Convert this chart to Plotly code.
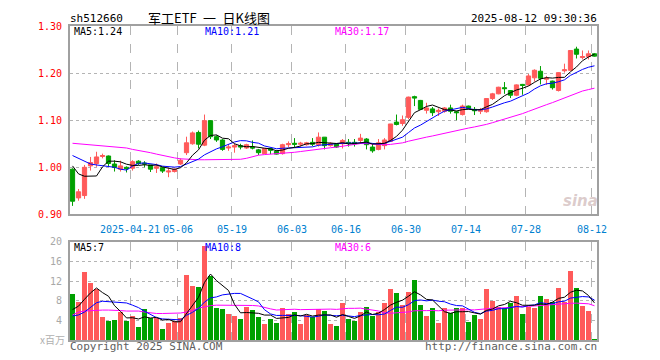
import pandas as pd
import plotly.graph_objects as go

# ---------------- data ----------------
holidays = ["2025-05-01", "2025-05-02", "2025-05-05", "2025-06-02"]
dates = [d for d in pd.bdate_range("2025-04-07", "2025-08-12").strftime("%Y-%m-%d") if d not in holidays]

opens = [0.996, 0.935, 0.940, 1.003, 1.008, 1.023, 1.024, 1.007, 0.996, 1.000,
         0.998, 1.013, 1.009, 1.005, 0.998, 0.999, 0.990, 0.991, 1.007, 1.031,
         1.050, 1.074, 1.047, 1.099, 1.065, 1.058, 1.041, 1.043, 1.046, 1.041,
         1.043, 1.037, 1.029, 1.040, 1.034, 1.029, 1.048, 1.051, 1.049, 1.048,
         1.053, 1.048, 1.064, 1.046, 1.050, 1.050, 1.053, 1.053, 1.057, 1.060,
         1.043, 1.038, 1.046, 1.055, 1.096, 1.093, 1.106, 1.150, 1.142, 1.121,
         1.124, 1.118, 1.119, 1.126, 1.118, 1.112, 1.130, 1.123, 1.119, 1.118,
         1.146, 1.156, 1.169, 1.163, 1.153, 1.176, 1.175, 1.190, 1.204, 1.187,
         1.183, 1.163, 1.205, 1.206, 1.251, 1.233, 1.235, 1.241]
highs = [0.998, 0.954, 1.005, 1.022, 1.033, 1.029, 1.025, 1.015, 1.014, 1.002,
         1.015, 1.015, 1.013, 1.005, 1.008, 1.000, 0.998, 0.998, 1.019, 1.065,
         1.076, 1.078, 1.112, 1.100, 1.068, 1.060, 1.049, 1.051, 1.050, 1.050,
         1.057, 1.039, 1.041, 1.040, 1.036, 1.050, 1.055, 1.062, 1.054, 1.054,
         1.062, 1.074, 1.064, 1.053, 1.051, 1.060, 1.060, 1.060, 1.071, 1.062,
         1.051, 1.060, 1.062, 1.092, 1.112, 1.110, 1.150, 1.152, 1.143, 1.137,
         1.128, 1.125, 1.128, 1.133, 1.120, 1.133, 1.131, 1.128, 1.126, 1.147,
         1.158, 1.171, 1.181, 1.164, 1.176, 1.177, 1.198, 1.208, 1.215, 1.194,
         1.184, 1.202, 1.220, 1.249, 1.256, 1.248, 1.248, 1.242]
lows = [0.918, 0.929, 0.933, 0.993, 1.001, 1.019, 1.001, 0.991, 0.991, 0.989,
        0.993, 1.005, 1.000, 0.990, 0.988, 0.988, 0.979, 0.989, 1.005, 1.026,
        1.048, 1.040, 1.045, 1.060, 1.054, 1.035, 1.035, 1.031, 1.038, 1.039,
        1.038, 1.026, 1.028, 1.028, 1.027, 1.027, 1.043, 1.043, 1.044, 1.046,
        1.045, 1.044, 1.038, 1.044, 1.041, 1.040, 1.044, 1.044, 1.050, 1.038,
        1.031, 1.036, 1.038, 1.054, 1.089, 1.088, 1.102, 1.130, 1.122, 1.114,
        1.109, 1.109, 1.116, 1.114, 1.100, 1.110, 1.123, 1.111, 1.113, 1.116,
        1.143, 1.155, 1.156, 1.147, 1.151, 1.154, 1.173, 1.182, 1.176, 1.175,
        1.165, 1.161, 1.201, 1.205, 1.231, 1.229, 1.229, 1.235]
closes = [0.928, 0.948, 1.000, 1.010, 1.022, 1.025, 1.008, 1.000, 1.003, 0.997,
          1.012, 1.008, 1.007, 0.996, 1.001, 0.992, 0.992, 0.996, 1.015, 1.052,
          1.073, 1.049, 1.099, 1.065, 1.058, 1.038, 1.043, 1.046, 1.043, 1.048,
          1.041, 1.031, 1.040, 1.036, 1.028, 1.048, 1.050, 1.049, 1.051, 1.052,
          1.049, 1.064, 1.046, 1.051, 1.043, 1.057, 1.051, 1.050, 1.062, 1.048,
          1.035, 1.052, 1.058, 1.092, 1.091, 1.101, 1.149, 1.147, 1.123, 1.126,
          1.116, 1.121, 1.126, 1.119, 1.116, 1.130, 1.125, 1.120, 1.121, 1.146,
          1.156, 1.170, 1.167, 1.153, 1.175, 1.174, 1.194, 1.206, 1.189, 1.189,
          1.169, 1.201, 1.207, 1.248, 1.240, 1.235, 1.241, 1.236]
volumes = [9.5, 7.7, 13.8, 11.6, 10.4, 4.8, 4.0, 4.2, 5.7, 3.8,
           5.0, 2.7, 6.4, 4.5, 4.5, 2.2, 3.4, 4.0, 4.5, 13.2,
           11.0, 10.8, 19.2, 13.0, 6.5, 6.4, 5.4, 5.0, 4.4, 6.8,
           6.2, 4.8, 3.2, 4.4, 3.4, 6.6, 5.4, 5.8, 3.2, 5.2,
           4.8, 6.4, 6.0, 3.2, 2.8, 7.6, 4.4, 4.0, 5.8, 6.8,
           5.0, 5.8, 7.6, 10.4, 9.6, 7.2, 9.8, 12.2, 7.2, 5.0,
           6.6, 3.4, 6.6, 5.6, 6.6, 6.6, 3.6, 5.2, 4.4, 10.4,
           8.0, 6.8, 6.6, 7.6, 9.0, 5.4, 6.8, 6.6, 9.0, 8.4,
           7.8, 10.6, 7.8, 14.0, 10.6, 7.0, 6.0, 0.2]

# moving-average values before enough history exists in the window
price_ma5_head = [1.003, 0.986, 0.981, 0.981]
price_ma10_head = [1.025, 1.019, 1.012, 1.007, 1.005, 1.003, 1.002, 1.000, 0.996]
price_ma30_head = [1.051, 1.050, 1.048, 1.048, 1.047, 1.046, 1.045, 1.044, 1.043, 1.041,
                   1.038, 1.036, 1.034, 1.031, 1.028, 1.025, 1.023, 1.020, 1.018, 1.017,
                   1.017, 1.016, 1.016, 1.016, 1.016, 1.016, 1.016, 1.017, 1.017]
vol_ma5_head = [6.2, 6.9, 8.3, 9.6]
vol_ma10_head = [4.9, 5.1, 5.7, 6.6, 7.6, 7.9, 7.8, 7.7, 7.7]
vol_ma30_head = [5.1, 5.7, 5.9, 6.0, 6.1, 6.1, 6.1, 6.1, 6.0, 5.9,
                 5.9, 5.9, 5.7, 5.5, 5.4, 5.4, 5.4, 5.4, 5.5, 5.7,
                 6.0, 6.5, 6.8, 7.0, 7.1, 7.1, 7.1, 7.1, 7.1]

tick_dates = ["2025-04-21", "2025-05-06", "2025-05-19", "2025-06-03", "2025-06-16",
              "2025-06-30", "2025-07-14", "2025-07-28", "2025-08-12"]
tick_labels = ["2025-04-21", "05-06", "05-19", "06-03", "06-16", "06-30", "07-14", "07-28", "08-12"]
price_ticks = [0.90, 1.00, 1.10, 1.20, 1.30]
price_tick_labels = ["0.90", "1.00", "1.10", "1.20", "1.30"]
vol_ticks = [4, 8, 12, 16, 20]
vol_tick_labels = ["4", "8", "12", "16", "20"]


def moving_average(values, n, head):
    out = list(head)
    for i in range(n - 1, len(values)):
        out.append(sum(values[i - n + 1:i + 1]) / n)
    return out


# ---------------- styling ----------------
RED = "#ff5a5a"
GREEN = "#00a000"
MONO = "DejaVu Sans Mono"
GRID = "#b4b4b4"
FRAME = "#a0a0a0"

idx = list(range(len(dates)))
tickvals = [dates.index(d) - 0.42 for d in tick_dates]
bar_colors = [RED if c >= o else GREEN for o, c in zip(opens, closes)]

fig = go.Figure()
fig.add_trace(go.Candlestick(
    x=idx, open=opens, high=highs, low=lows, close=closes,
    increasing=dict(line=dict(color=RED, width=1), fillcolor=RED),
    decreasing=dict(line=dict(color=GREEN, width=1), fillcolor=GREEN),
    whiskerwidth=0, xaxis="x", yaxis="y", hoverinfo="skip"))

for n, head, col in [(30, price_ma30_head, "#ff00ff"), (10, price_ma10_head, "#0000ff"), (5, price_ma5_head, "#000000")]:
    fig.add_trace(go.Scatter(x=idx, y=moving_average(closes, n, head), mode="lines",
                             line=dict(color=col, width=1), xaxis="x", yaxis="y", hoverinfo="skip"))

fig.add_trace(go.Bar(x=idx, y=volumes, marker=dict(color=bar_colors, line=dict(width=0)),
                     width=0.8, xaxis="x2", yaxis="y2", hoverinfo="skip"))
for n, head, col in [(30, vol_ma30_head, "#ff00ff"), (10, vol_ma10_head, "#0000ff"), (5, vol_ma5_head, "#000000")]:
    fig.add_trace(go.Scatter(x=idx, y=moving_average(volumes, n, head), mode="lines",
                             line=dict(color=col, width=1), xaxis="x2", yaxis="y2", hoverinfo="skip"))

# page geometry (the html body adds an 8px margin around the figure)
OFF = 8
L, R, T, B = 70, 597, 20, 340
PAGE_W, PAGE_H = 660, 360


def px(x):
    return (x - L) / (R - L)


def py(y):
    return (B - y) / (B - T)


xcommon = dict(range=[-0.42, 87.42], tickvals=tickvals, showgrid=True, gridcolor=GRID,
               griddash="dash", gridwidth=1, showline=True, mirror=True, linecolor=FRAME,
               linewidth=2, zeroline=False, ticks="", rangeslider=dict(visible=False))
fig.update_layout(
    width=PAGE_W - OFF, height=PAGE_H - OFF,
    margin=dict(l=L - OFF, r=PAGE_W - R, t=T - OFF, b=PAGE_H - B),
    paper_bgcolor="white", plot_bgcolor="white", showlegend=False,
    boxgap=0.3, boxgroupgap=0, bargap=0,
    xaxis=dict(**xcommon, domain=[0, 1], anchor="y", ticktext=tick_labels,
               tickfont=dict(family=MONO, size=10, color="#0080d0"), ticklabelstandoff=5),
    xaxis2=dict(**xcommon, domain=[0, 1], anchor="y2", matches="x", showticklabels=False),
    yaxis=dict(domain=[py(212), 1], range=[0.90, 1.30], tickvals=price_ticks, ticktext=price_tick_labels,
               tickfont=dict(family=MONO, size=10, color="#ff0000"), showgrid=True, gridcolor=GRID,
               griddash="dot", showline=True, mirror=True, linecolor=FRAME, linewidth=2,
               zeroline=False, ticks="", ticklabelstandoff=4),
    yaxis2=dict(domain=[0, py(240)], range=[0, 20], tickvals=vol_ticks, ticktext=vol_tick_labels,
                tickfont=dict(family=MONO, size=10, color="#a8a8a8"), showgrid=True, gridcolor=GRID,
                griddash="dot", showline=True, mirror=True, linecolor=FRAME, linewidth=2,
                zeroline=False, ticks="", ticklabelstandoff=4),
)


def note(text, x, y, color="#000000", xanchor="left", size=10, family=MONO):
    fig.add_annotation(text=text, x=px(x), y=py(y), xref="paper", yref="paper",
                       xanchor=xanchor, yanchor="middle", showarrow=False,
                       font=dict(family=family, size=size, color=color), borderpad=0)


note("sh512660", 69, 12, size=11)
note("军工ETF\u2002一\u2002日K线图", 209, 11, xanchor="center", size=13, family="Noto Sans CJK SC")
note("2025-08-12 09:30:36", 598, 12, xanchor="right", size=11)
note("MA5:1.24", 73, 26)
note("MA10:1.21", 204, 26, color="#0000ff")
note("MA30:1.17", 334, 26, color="#ff00ff")
note("MA5:7", 73, 246)
note("MA10:8", 204, 246, color="#0000ff")
note("MA30:6", 334, 246, color="#ff00ff")
note("x百万", 66, 339, color="#b0b0b0", xanchor="right", size=10, family="Noto Sans CJK SC")
note("Copyright 2025 SINA.COM", 69, 347, color="#606060", size=11)
note("http://finance.sina.com.cn", 598, 347, color="#606060", xanchor="right", size=11)
fig.add_annotation(text="<b><i>sina</i></b>", x=px(580), y=py(198), xref="paper", yref="paper",
                   xanchor="center", yanchor="middle", showarrow=False,
                   font=dict(family="DejaVu Sans", size=15, color="rgba(190,160,160,0.55)"))

fig.write_html("out.html")
